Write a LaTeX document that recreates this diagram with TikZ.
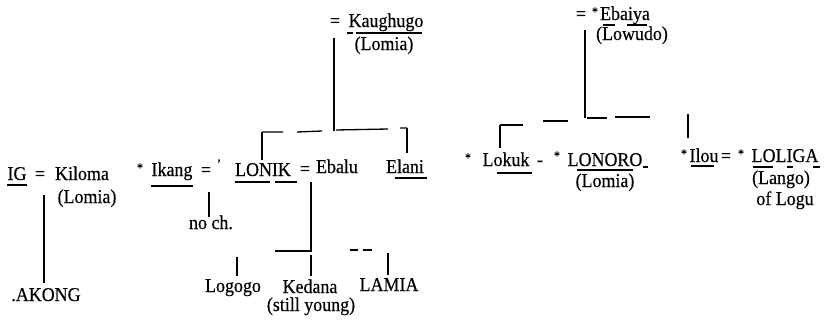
\documentclass[tikz,border=0pt]{standalone}
\usepackage{fontspec}
\setmainfont{Liberation Serif}[FakeStretch=0.92,FakeBold=0.4]
\begin{document}
\begin{tikzpicture}[x=1pt,y=-1pt,
 txt/.style={inner sep=0pt,anchor=base,font=\fontsize{19.5}{21}\selectfont},
 sm/.style={inner sep=0pt,anchor=base,font=\fontsize{13}{14}\selectfont},
 ln/.style={line width=1.3pt},
 ul/.style={line width=1.1pt}]
\useasboundingbox[fill=white] (0,0) rectangle (824,327);

% ---------- left family ----------
\node[txt] (ig) at (17,180) {IG};
\node[txt] (eq1) at (40,180) {=};
\node[txt] (kiloma) at (82,180) {Kiloma};
\node[txt] (lomia1) at (87,203) {(Lomia)};
\node[txt] (akong) at (46,301) {.AKONG};
\draw[ul] ([yshift=-5pt]ig.base west) -- ([yshift=-5pt]ig.base east);
\coordinate (ig-top) at (44,195);
\coordinate (ig-bot) at (44,283);
\draw[ln] (ig-top) -- (ig-bot);

% ---------- Kaughugo family ----------
\node[txt] (eqK) at (335,27) {=};
\node[txt] (kaug) at (386,27) {Kaughugo};
\node[txt] (lomiaK) at (384,50) {(Lomia)};
\draw[ul] (347,33) -- (353,33) (356,33) -- (422,33);
\coordinate (kv-top) at (334,38);
\coordinate (kv-bot) at (334,131);
\draw[ln] (kv-top) -- (kv-bot);
\coordinate (kb-l) at (262,132);
\coordinate (kb-r) at (407,128);
\draw[ln] (kb-l) -- (283,132) (297,132) -- (322,131) (336,130) -- (388,129) (400,128) -- (kb-r);
\coordinate (kb-ld) at (262,160);
\coordinate (kb-rd) at (407,153);
\draw[ln] (kb-l) -- (kb-ld);
\draw[ln] (kb-r) -- (kb-rd);

% ---------- middle row ----------
\node[sm] (st1) at (140,172) {*};
\node[txt] (ikang) at (172,176) {Ikang};
\node[txt] (eq2) at (206,176) {=};
\node[sm] (tick) at (219,168) {'};
\node[txt] (lonik) at (263,176) {LONIK};
\node[txt] (eq3) at (305,175) {=};
\node[txt] (ebalu) at (337,173) {Ebalu};
\node[txt] (elani) at (405,173) {Elani};
\draw[ul] ([yshift=-10pt]ikang.base west) -- ([yshift=-10pt]ikang.base east);
\draw[ul] (235,182) -- (270,182) (275,182) -- (297,182);
\draw[ul] (395,178) -- (427,178);

\node[txt] (noch) at (211,229) {no ch.};
\coordinate (ik-top) at (209,192);
\coordinate (ik-bot) at (209,217);
\draw[ln] (ik-top) -- (ik-bot);

% Ebalu's children
\coordinate (eb-top) at (311,182);
\coordinate (eb-bar) at (311,251);
\coordinate (eb-barl) at (275,251);
\draw[ln] (eb-top) -- (eb-bar) -- (eb-barl);
\draw[ln] (350,250) -- (358,250) (363,250) -- (372,250);
\node[txt] (logogo) at (233,292) {Logogo};
\node[txt] (kedana) at (310,293) {Kedana};
\node[txt] (young) at (311,311) {(still young)};
\node[txt] (lamia) at (389,291) {LAMIA};
\coordinate (lg-top) at (237,257);
\coordinate (kd-top) at (311,255);
\coordinate (lm-top) at (388,253);
\draw[ln] (lg-top) -- ([yshift=3pt]logogo.north -| lg-top);
\draw[ln] (kd-top) -- ([yshift=3pt]kedana.north -| kd-top);
\draw[ln] (lm-top) -- ([yshift=3pt]lamia.north -| lm-top);

% ---------- Ebaiya family ----------
\node[txt] (eqE) at (581,20) {=};
\node[sm] (st2) at (595,16) {*};
\node[txt] (ebaiya) at (625,20) {Ebaiya};
\node[txt] (lowudo) at (632,40) {(Lowudo)};
\draw[ul] (603,25) -- (615,25) (627,25) -- (647,25);
\coordinate (ev-top) at (585,30);
\coordinate (ev-bot) at (585,118);
\draw[ln] (ev-top) -- (ev-bot);
\coordinate (eb2-l) at (500,125);
\draw[ln] (eb2-l) -- (523,125) (543,121) -- (568,121) (587,118) -- (607,118) (615,117) -- (650,117);
\coordinate (eb2-ld) at (500,148);
\draw[ln] (eb2-l) -- (eb2-ld);
\coordinate (il-top) at (688,114);
\coordinate (il-bot) at (688,138);
\draw[ln] (il-top) -- (il-bot);

% right row
\node[sm] (st3) at (468,162) {*};
\node[txt] (lokuk) at (506,166) {Lokuk};
\node[txt] (dash) at (540,166) {-};
\node[sm] (st4) at (557,160) {*};
\node[txt] (lonoro) at (605,166) {LONORO};
\node[txt] (lomia2) at (605,187) {(Lomia)};
\node[sm] (st5) at (684,158) {*};
\node[txt] (ilou) at (704,162) {Ilou};
\node[txt] (eq4) at (726,162) {=};
\node[sm] (st6) at (741,158) {*};
\node[txt] (loliga) at (785,162) {LOLIGA};
\node[txt] (lango) at (781,184) {(Lango)};
\node[txt] (logu) at (785,205) {of Logu};
\draw[ul] (497,173) -- (532,173);
\draw[ul] (577,170) -- (633,170) (643,167) -- (648,167);
\draw[ul] (691,166) -- (714,166);
\draw[ul] (753,167) -- (773,167) (787,167) -- (793,167) (813,167) -- (820,167);
\end{tikzpicture}
\end{document}
